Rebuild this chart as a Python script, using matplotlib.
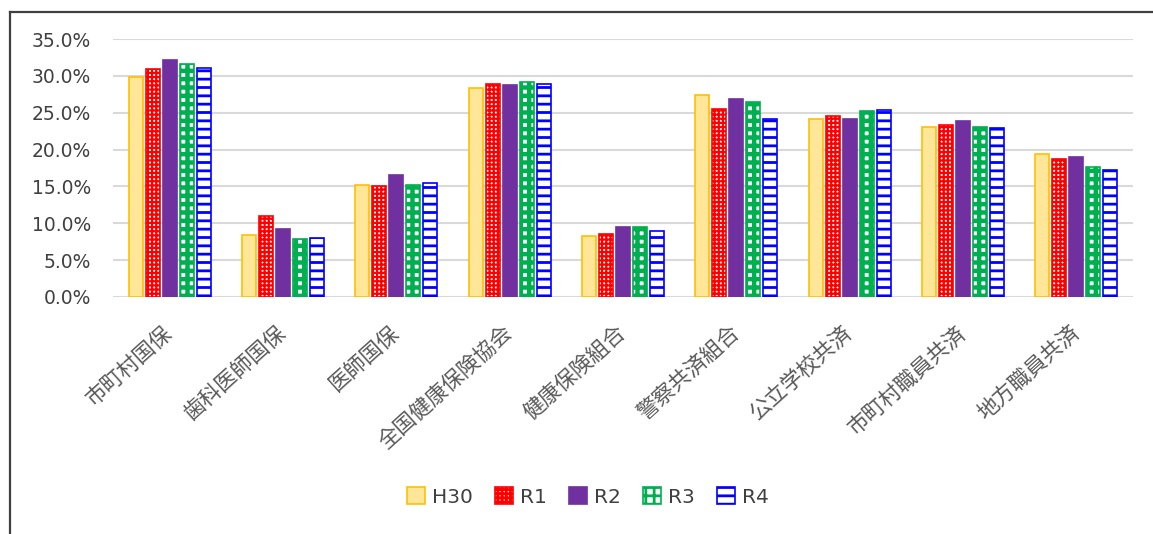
import matplotlib
matplotlib.use("Agg")
import matplotlib.pyplot as plt
import matplotlib.transforms as mtransforms
from matplotlib.lines import Line2D
from matplotlib.ticker import FuncFormatter
import numpy as np

categories = ["市町村国保", "歯科医師国保", "医師国保", "全国健康保険協会", "健康保険組合",
              "警察共済組合", "公立学校共済", "市町村職員共済", "地方職員共済"]
series_names = ["H30", "R1", "R2", "R3", "R4"]
h30 = [29.8, 8.4, 15.2, 28.4, 8.3, 27.4, 24.2, 23.1, 19.4]
r1 = [30.9, 11.0, 15.0, 28.9, 8.5, 25.5, 24.5, 23.4, 18.7]
r2 = [32.1, 9.2, 16.5, 28.8, 9.5, 26.9, 24.2, 23.9, 19.0]
r3 = [31.6, 7.9, 15.2, 29.1, 9.5, 26.4, 25.2, 23.1, 17.7]
r4 = [31.1, 8.0, 15.5, 28.9, 9.0, 24.1, 25.4, 22.9, 17.2]
yticks = [0, 5, 10, 15, 20, 25, 30, 35]

series = [h30, r1, r2, r3, r4]
styles = [
    dict(facecolor="#FFE699", edgecolor="#FFC000", hatch=None, hlw=1.0),
    dict(facecolor="white", edgecolor="#FF0000", hatch="++++", hlw=1.6),
    dict(facecolor="#7030A0", edgecolor="#7030A0", hatch=None, hlw=1.0),
    dict(facecolor="white", edgecolor="#00B050", hatch="++", hlw=3.2),
    dict(facecolor="white", edgecolor="#0000FF", hatch="--", hlw=2.0),
]

plt.rcParams['font.family'] = ['DejaVu Sans', 'Noto Sans CJK JP']

W, H = 1153, 534
fig = plt.figure(figsize=(W / 100, H / 100), dpi=100)
ax = fig.add_axes([113 / W, 1 - 297 / H, (1133 - 113) / W, (297 - 39) / H])

x = np.arange(len(categories))
slot = 0.15
bw = 0.122
for k, (vals, st) in enumerate(zip(series, styles)):
    plt.rcParams['hatch.linewidth'] = st["hlw"]
    ax.bar(x + (k - 2) * slot, vals, width=bw, facecolor=st["facecolor"],
           edgecolor=st["edgecolor"], hatch=st["hatch"], linewidth=1.2,
           label=series_names[k], zorder=3)

ax.set_xlim(-0.5, len(categories) - 0.5)
ax.set_ylim(0, 35)
ax.set_yticks(yticks)
ax.yaxis.set_major_formatter(FuncFormatter(lambda v, p: f"{v:.1f}%"))
ax.tick_params(axis="y", length=0, pad=16, labelsize=13.5, labelcolor="#404040")
ax.set_xticks([])
ax.grid(axis="y", color="#D9D9D9", linewidth=1.5, zorder=0)
ax.set_axisbelow(True)
for s in ax.spines.values():
    s.set_visible(False)

off = mtransforms.offset_copy(ax.transData, fig=fig, x=0, y=-33, units="dots")
for i, c in enumerate(categories):
    ax.text(i, 0, c, transform=off, rotation=42, ha="right", va="center",
            rotation_mode="anchor", fontsize=15.5, color="#595959",
            family=["Noto Sans CJK JP", "DejaVu Sans"])

fig.legend(loc="center", bbox_to_anchor=(588 / W, 1 - 497 / H), ncol=5,
           frameon=False, fontsize=14.5, handlelength=0.9, handleheight=0.9,
           handletextpad=0.35, columnspacing=1.1, labelcolor="#404040")

fig.add_artist(Line2D([10 / W, 10 / W], [0, 1 - 12 / H], transform=fig.transFigure,
                      color="#404040", linewidth=1.6))
fig.add_artist(Line2D([10 / W, 1], [1 - 12 / H, 1 - 12 / H], transform=fig.transFigure,
                      color="#404040", linewidth=1.6))

fig.savefig("out.png", dpi=100)
